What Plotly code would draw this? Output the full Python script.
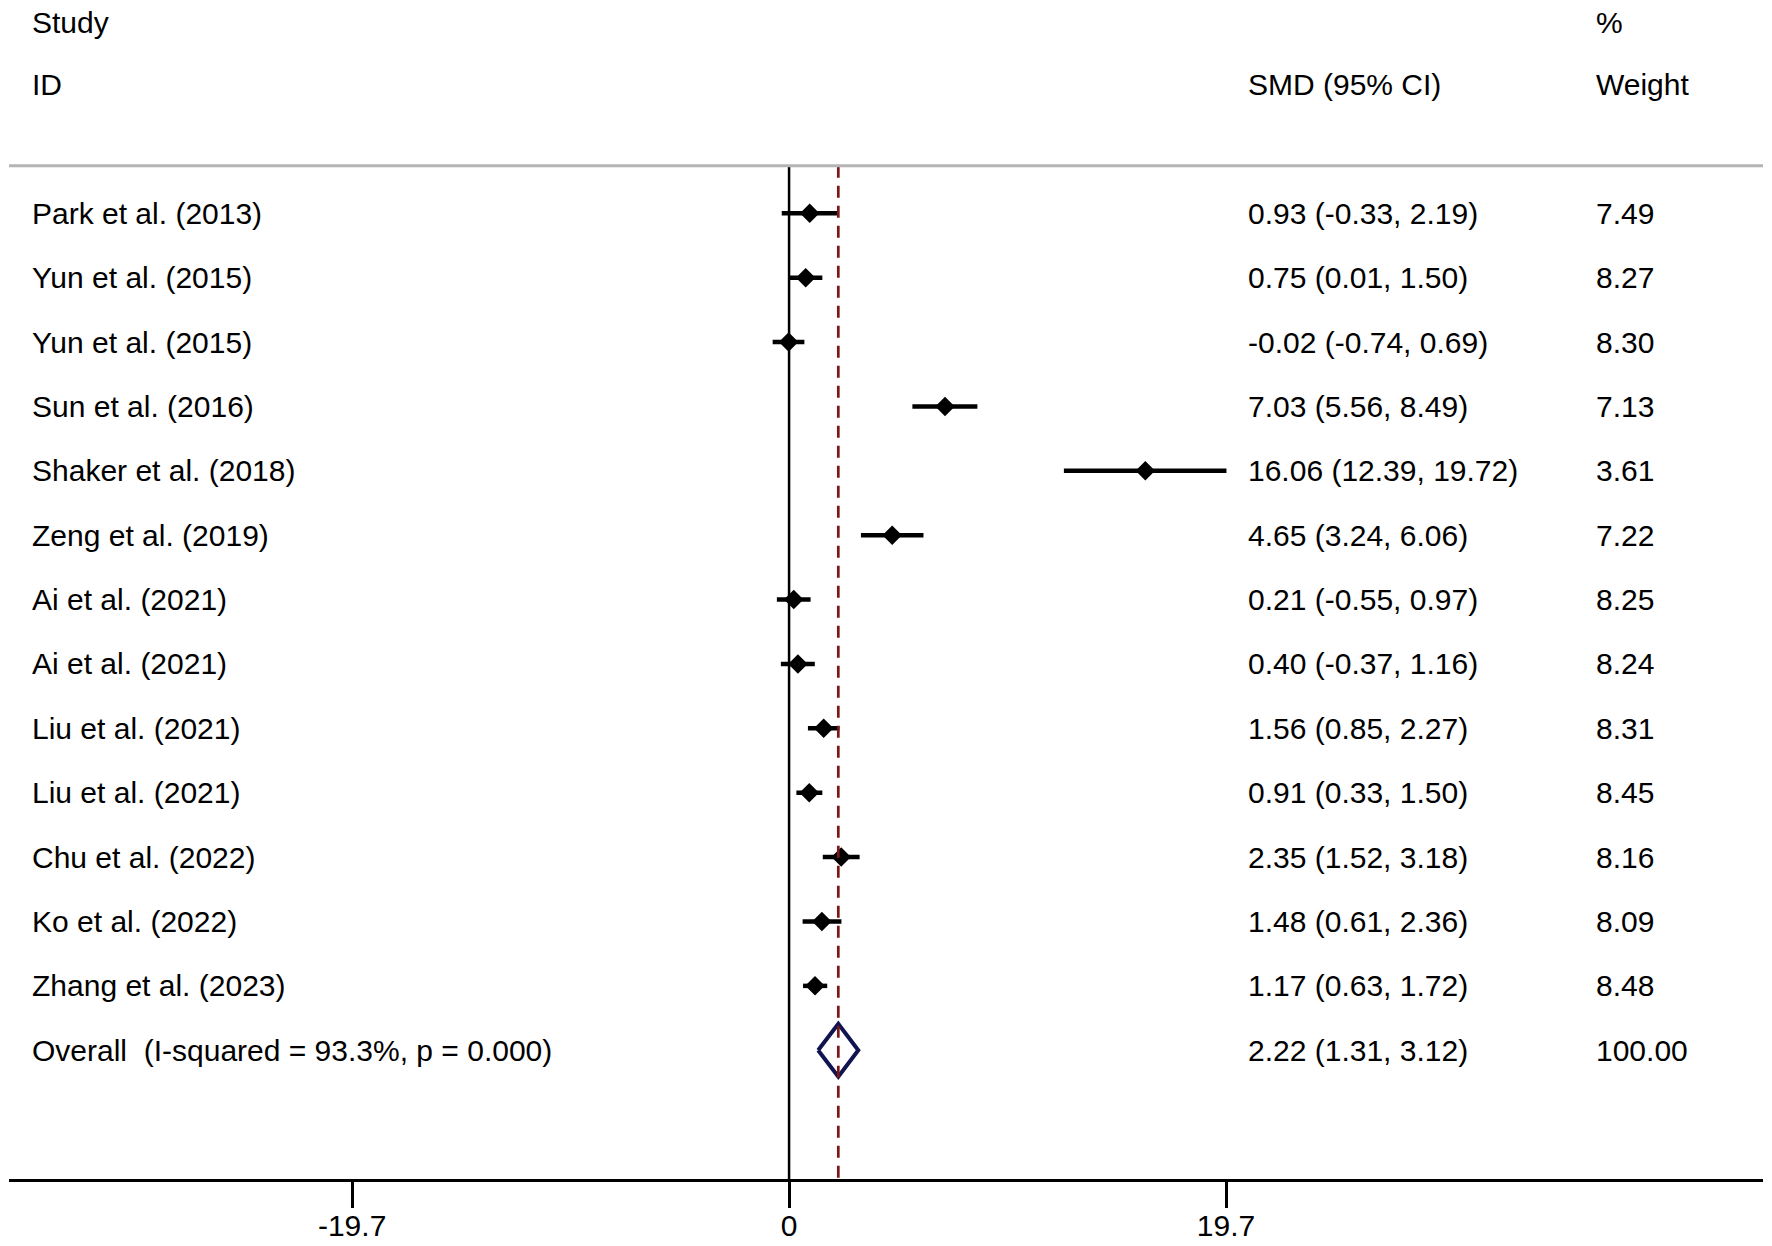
import plotly.graph_objects as go

studies = ["Park et al. (2013)", "Yun et al. (2015)", "Yun et al. (2015)", "Sun et al. (2016)",
           "Shaker et al. (2018)", "Zeng et al. (2019)", "Ai et al. (2021)", "Ai et al. (2021)",
           "Liu et al. (2021)", "Liu et al. (2021)", "Chu et al. (2022)", "Ko et al. (2022)",
           "Zhang et al. (2023)"]
smd = [0.93, 0.75, -0.02, 7.03, 16.06, 4.65, 0.21, 0.40, 1.56, 0.91, 2.35, 1.48, 1.17]
ci_low = [-0.33, 0.01, -0.74, 5.56, 12.39, 3.24, -0.55, -0.37, 0.85, 0.33, 1.52, 0.61, 0.63]
ci_high = [2.19, 1.50, 0.69, 8.49, 19.72, 6.06, 0.97, 1.16, 2.27, 1.50, 3.18, 2.36, 1.72]
weights = [7.49, 8.27, 8.30, 7.13, 3.61, 7.22, 8.25, 8.24, 8.31, 8.45, 8.16, 8.09, 8.48]

overall_label = "Overall  (I-squared = 93.3%, p = 0.000)"
overall_smd = 2.22
overall_low = 1.31
overall_high = 3.12
overall_weight = 100.00

tick_vals = [-19.7, 0, 19.7]
tick_text = ["-19.7", "0", "19.7"]

FONT = "Liberation Sans, Arial, sans-serif"
FS = 30
rows = list(range(len(studies)))
overall_row = len(studies)

fig = go.Figure()

# CI lines
ci_x, ci_y = [], []
for r, lo, hi in zip(rows, ci_low, ci_high):
    ci_x += [lo, hi, None]
    ci_y += [r, r, None]
fig.add_trace(go.Scatter(x=ci_x, y=ci_y, mode="lines",
                         line=dict(color="black", width=4.5), hoverinfo="skip"))

# point estimates
fig.add_trace(go.Scatter(x=smd, y=rows, mode="markers",
                         marker=dict(symbol="diamond", size=15, color="black")))

# overall diamond
h = 0.41
fig.add_trace(go.Scatter(
    x=[overall_low, overall_smd, overall_high, overall_smd, overall_low],
    y=[overall_row, overall_row - h, overall_row, overall_row + h, overall_row],
    mode="lines", line=dict(color="#101450", width=4), hoverinfo="skip"))

# reference lines
rule_y = -0.74
fig.add_shape(type="line", xref="x", yref="y", x0=0, x1=0, y0=rule_y, y1=15,
              line=dict(color="black", width=2.5))
fig.add_shape(type="line", xref="x", yref="y", x0=overall_smd, x1=overall_smd, y0=rule_y, y1=15,
              line=dict(color="#7d1616", width=2.7, dash="12px,8px"))
fig.add_shape(type="line", xref="paper", yref="y", x0=0, x1=1, y0=rule_y, y1=rule_y,
              line=dict(color="#b4b4b4", width=3))

col_study, col_smd, col_w = 0.012, 0.7052, 0.9036
txt = dict(xref="paper", yref="y", xanchor="left", yanchor="middle", showarrow=False,
           font=dict(family=FONT, size=FS, color="black"))

# headers
fig.add_annotation(x=col_study, y=-2.96, text="Study", **txt)
fig.add_annotation(x=col_study, y=-2, text="ID", **txt)
fig.add_annotation(x=col_smd, y=-2, text="SMD (95% CI)", **txt)
fig.add_annotation(x=col_w, y=-2.96, text="%", **txt)
fig.add_annotation(x=col_w, y=-2, text="Weight", **txt)

for r, name, m, lo, hi, w in zip(rows, studies, smd, ci_low, ci_high, weights):
    fig.add_annotation(x=col_study, y=r, text=name, **txt)
    fig.add_annotation(x=col_smd, y=r, text=f"{m:.2f} ({lo:.2f}, {hi:.2f})", **txt)
    fig.add_annotation(x=col_w, y=r, text=f"{w:.2f}", **txt)

fig.add_annotation(x=col_study, y=overall_row, text=overall_label.replace("  ", "&nbsp; "), **txt)
fig.add_annotation(x=col_smd, y=overall_row,
                   text=f"{overall_smd:.2f} ({overall_low:.2f}, {overall_high:.2f})", **txt)
fig.add_annotation(x=col_w, y=overall_row, text=f"{overall_weight:.2f}", **txt)

# page has an 8px body margin, so the figure is 8px smaller and starts at (8, 8)
fig.update_layout(
    width=1764, height=1238,
    margin=dict(l=1, r=9, t=0, b=67),
    plot_bgcolor="white", paper_bgcolor="white",
    showlegend=False,
    font=dict(family=FONT, size=FS, color="black"),
)
fig.update_xaxes(range=[-35.17, 43.91], tickvals=tick_vals, ticktext=tick_text,
                 showgrid=False, zeroline=False, showline=True, linecolor="black", linewidth=3,
                 ticks="outside", ticklen=26, tickwidth=3, tickcolor="black",
                 ticklabelstandoff=-8,
                 tickfont=dict(family=FONT, size=FS, color="black"))
fig.update_yaxes(range=[15, -3.19], showgrid=False, zeroline=False, showticklabels=False,
                 showline=False)

fig.write_html("out.html")
